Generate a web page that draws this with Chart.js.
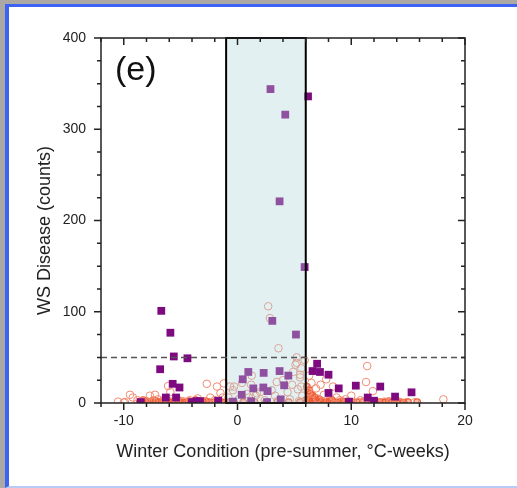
<!DOCTYPE html>
<html>
<head>
<meta charset="utf-8">
<script src="https://cdn.jsdelivr.net/npm/chart.js@4"></script>
<style>
  body { margin: 0; width: 517px; height: 488px; overflow: hidden; position: relative; background: #aca8a4; }
  #panel { position: absolute; left: 5px; top: 4px; width: 520px; height: 479px; background: #fff;
           border-top: 3px solid #3c63f3; border-left: 4px solid #3c63f3; border-bottom: 2px solid #b8cbf7; }
  canvas { position: absolute; left: 0; top: 0; }
</style>
</head>
<body>
<div id="panel"></div>
<canvas id="chart" width="517" height="488"></canvas>
<script>
// winter condition (x) vs WS disease counts (y)
const diseaseSquares = [
  [-6.7, 101], [-5.9, 77], [-5.6, 51], [-4.4, 49], [-6.8, 37], [-5.7, 21], [-5.1, 17],
  [-6.3, 6], [-5.4, 6], [-8.5, 1], [-4.0, 1], [-3.6, 2], [-3.3, 2], [-1.7, 2.5], [-0.4, 1.5],
  [2.9, 344], [4.2, 316], [3.7, 221], [3.06, 90], [5.14, 75], [0.95, 34], [0.46, 26],
  [2.3, 33], [3.7, 35], [4.47, 30], [1.39, 16], [2.27, 17], [2.65, 13], [4.1, 19.4],
  [0.37, 9], [3.8, 4], [1.2, 2], [2.6, 1],
  [6.2, 336], [5.9, 149], [7.0, 43], [6.6, 35], [7.25, 34], [8.0, 31], [8.9, 16], [8.0, 11],
  [10.4, 19], [12.55, 18], [11.45, 6], [12.0, 2.5], [9.8, 1.5], [13.85, 7], [15.3, 11.7]
];

const openCircles = [
  // inside the window
  [2.7, 106], [2.85, 93], [3.6, 60], [5.2, 50], [5.1, 42], [5.9, 47], [5.2, 44], [5.5, 31],
  [5.6, 18], [3.45, 23], [3.0, 14], [1.7, 10.6], [-0.4, 14], [-1.2, 21.5], [-0.66, 18],
  [1.25, 30], [0.4, 22], [1.2, 20], [0.8, 10], [1.6, 8], [2.0, 12], [3.3, 8], [4.4, 12],
  [4.8, 20], [5.5, 28], [5.3, 15], [5.7, 8], [-0.8, 6], [0.1, 4], [1.0, 6], [2.4, 3],
  [3.5, 2], [4.6, 4], [5.4, 2], [-0.3, 18], [4.0, 25], [4.9, 34], [5.6, 38],
  // left of it
  [-10.5, 1.5], [-9.45, 9], [-9.2, 6], [-8.8, 3], [-8.3, 2], [-7.7, 8], [-7.25, 9], [-7.0, 4],
  [-6.5, 3], [-6.1, 18.6], [-5.9, 12], [-5.3, 4], [-4.8, 2], [-4.2, 3], [-3.5, 5], [-2.7, 21],
  [-2.4, 6], [-2.0, 3], [-1.8, 18], [-1.5, 11], [-1.3, 6], [-3.0, 2], [-6.0, 2], [-7.4, 2],
  [-9.9, 1], [-10.0, 0.5],
  // right of it
  [11.4, 40.5], [11.3, 23], [6.3, 30], [6.5, 22], [6.9, 16], [6.2, 12], [7.3, 20], [7.6, 9],
  [7.0, 5], [6.5, 3], [8.4, 18], [8.7, 6], [9.0, 3], [8.0, 2], [10.0, 8], [11.9, 13],
  [10.6, 1], [11.1, 2], [12.3, 1], [12.9, 1.5], [13.4, 1], [14.2, 1.5], [14.9, 1], [15.6, 1],
  [18.1, 4], [9.5, 4], [7.8, 26], [10.8, 3]
];

const baseCircles = [
  [-8.6, 1], [-8.0, 2], [-7.6, 1], [-7.2, 2], [-6.9, 1], [-6.6, 2], [-6.2, 1], [-5.8, 1],
  [-5.5, 2], [-5.0, 1], [-4.6, 1], [-4.3, 2], [-3.9, 1], [-3.5, 1], [-3.0, 1], [-2.5, 1],
  [-2.0, 1], [-1.4, 1], [-0.8, 1], [-0.3, 1], [0.5, 1], [1.5, 1], [2.5, 1], [3.5, 1],
  [4.5, 1], [5.5, 1], [6.1, 1], [6.4, 2], [6.7, 1], [7.0, 2], [7.3, 1], [7.7, 1], [8.1, 2],
  [8.5, 1], [9.0, 1], [9.4, 1], [10.2, 1], [11.0, 1], [11.8, 1], [12.5, 1], [13.0, 1],
  [13.6, 1], [14.3, 1], [15.0, 1], [15.8, 1], [6.2, 5], [6.6, 8], [6.3, 14],
  [-8.3, 3], [-7.9, 0.5], [-7.4, 3], [-7.0, 0.5], [-6.4, 3], [-6.0, 0.5], [-5.2, 3],
  [-4.8, 0.5], [-4.1, 0.5], [-3.7, 3], [-3.2, 0.5], [-2.8, 2], [-2.2, 0.5], [-1.7, 2],
  [-1.1, 0.5], [6.0, 3], [6.3, 0.5], [6.6, 4], [6.9, 0.5], [7.2, 4], [7.5, 2], [7.9, 0.5],
  [8.3, 3], [8.8, 0.5], [9.2, 2], [9.7, 0.5], [10.5, 0.5], [11.4, 0.5], [12.1, 0.5],
  [12.8, 0.5], [13.3, 2], [14.0, 0.5], [14.6, 0.5], [6.4, 10], [6.8, 6], [6.1, 18]
];

const windowLow = -1;
const windowHigh = 6;
const threshold = 50;
const xMin = -12, xMax = 20;
const yMin = 0, yMax = 400;
const yTitle = 'WS Disease (counts)';

const toPts = (arr) => arr.map(p => ({ x: p[0], y: p[1] }));

const FONT = 'Liberation Sans, Arial, sans-serif';

// shaded window, dashed threshold, frame with in/out ticks, panel letter
const framePlugin = {
  id: 'frame',
  afterDatasetsDraw(chart) {
    const { ctx, chartArea: a, scales: { x, y } } = chart;
    ctx.save();

    const x0 = x.getPixelForValue(windowLow), x1 = x.getPixelForValue(windowHigh);
    const yt = y.getPixelForValue(yMax), yb = y.getPixelForValue(yMin);
    ctx.fillStyle = 'rgba(172,212,218,0.35)';
    ctx.fillRect(x0, yt, x1 - x0, yb - yt);
    ctx.strokeStyle = '#000';
    ctx.lineWidth = 2;
    ctx.strokeRect(x0, yt, x1 - x0, yb - yt);

    const yd = y.getPixelForValue(threshold);
    ctx.setLineDash([6, 4]);
    ctx.strokeStyle = '#555';
    ctx.lineWidth = 1.5;
    ctx.beginPath();
    ctx.moveTo(a.left, yd);
    ctx.lineTo(a.right, yd);
    ctx.stroke();
    ctx.setLineDash([]);

    ctx.strokeStyle = '#222';
    ctx.lineWidth = 1.5;
    ctx.strokeRect(a.left, a.top, a.right - a.left, a.bottom - a.top);

    ctx.beginPath();
    x.ticks.forEach(t => {
      const px = x.getPixelForValue(t.value);
      const len = t.value % 10 === 0 ? 7 : 4;
      ctx.moveTo(px, a.bottom); ctx.lineTo(px, a.bottom + len);   // out
      ctx.moveTo(px, a.top); ctx.lineTo(px, a.top + len);         // in
    });
    y.ticks.forEach(t => {
      const py = y.getPixelForValue(t.value);
      const len = t.value % 100 === 0 ? 7 : 4;
      ctx.moveTo(a.left - len, py); ctx.lineTo(a.left, py);       // out
      ctx.moveTo(a.right - len, py); ctx.lineTo(a.right, py);     // in
    });
    ctx.stroke();

    ctx.fillStyle = '#111';
    ctx.font = '34px ' + FONT;
    ctx.textBaseline = 'middle';
    ctx.fillText('(e)', a.left + 14, a.top + 33);

    // y title sits a little below the axis middle in the original
    ctx.fillStyle = '#222';
    ctx.font = '18px ' + FONT;
    ctx.textAlign = 'center';
    ctx.translate(45, (a.top + a.bottom) / 2 + 10);
    ctx.rotate(-Math.PI / 2);
    ctx.fillText(yTitle, 0, 0);
    ctx.restore();
  }
};

new Chart(document.getElementById('chart'), {
  type: 'scatter',
  data: {
    datasets: [
      {
        label: 'WS disease (squares)',
        data: toPts(diseaseSquares),
        pointStyle: 'rect',
        pointRadius: 5.5,
        backgroundColor: '#7e0a80',
        borderColor: '#7e0a80',
        borderWidth: 0
      },
      {
        label: 'open circles',
        data: toPts(openCircles),
        pointStyle: 'circle',
        pointRadius: 3.8,
        backgroundColor: 'rgba(0,0,0,0)',
        borderColor: 'rgb(240,140,115)',
        borderWidth: 1
      },
      {
        label: 'near zero',
        data: toPts(baseCircles),
        pointStyle: 'circle',
        pointRadius: 3.3,
        backgroundColor: 'rgba(240,100,60,0.4)',
        borderColor: 'rgb(238,92,52)',
        borderWidth: 1.2
      }
    ]
  },
  options: {
    responsive: false,
    animation: false,
    layout: { padding: { left: 0, top: 38, right: 52, bottom: 0 } },
    plugins: { legend: { display: false }, tooltip: { enabled: false } },
    scales: {
      x: {
        type: 'linear', min: xMin, max: xMax,
        grid: { display: false, drawTicks: false },
        border: { display: false },
        ticks: {
          stepSize: 2, autoSkip: false, maxRotation: 0, padding: 10, color: '#222',
          font: { family: FONT, size: 14 },
          callback: v => (v % 10 === 0 ? v : '')
        },
        title: {
          display: true, text: 'Winter Condition (pre-summer, \u00B0C-weeks)', color: '#222',
          font: { family: FONT, size: 18 }, padding: { top: 0, bottom: 25 }
        },
        afterFit: s => { s.height = 85; }
      },
      y: {
        type: 'linear', min: yMin, max: yMax,
        grid: { display: false, drawTicks: false },
        border: { display: false },
        ticks: {
          stepSize: 25, autoSkip: false, padding: 15, color: '#222',
          font: { family: FONT, size: 14 },
          callback: v => (v % 100 === 0 ? v : '')
        },
        title: { display: false },
        afterFit: s => { s.width = 101; }
      }
    }
  },
  plugins: [framePlugin]
});
</script>
</body>
</html>
